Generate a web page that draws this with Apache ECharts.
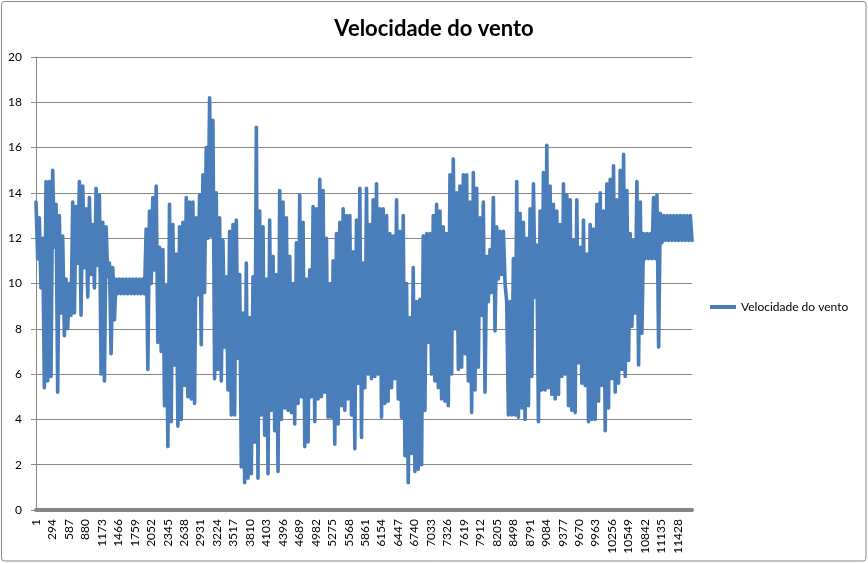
<!DOCTYPE html>
<html><head><meta charset="utf-8">
<script src="https://cdn.jsdelivr.net/npm/echarts@6/dist/echarts.min.js"></script>
<style>html,body{margin:0;padding:0;background:#fff}#c{width:868px;height:563px}</style>
</head><body><div id="c"></div>
<script>
const seriesName = 'Velocidade do vento';
const chartTitle = 'Velocidade do vento';
const totalSamples = 11680;     // number of records (x categories 1..N)
const xLabelStep = 293;         // tick labels 1, 294, 587, ...
const yMin = 0, yMax = 20, yStep = 2;

// Readings, alternating local high / local low, left to right
const speedA = [13.6,11.1, 12.9,9.8, 12.0,5.4, 14.5,5.7, 14.5,5.9, 15.0,11.6, 13.5,5.2, 13.0,8.7, 12.1,7.7, 10.2,8.0,
  10.0,8.6, 13.6,8.7, 13.4,10.9, 14.5,8.6, 14.3,10.7, 13.3,9.4, 13.8,10.4, 12.6,9.8, 14.2,10.8, 13.9,6.0,
  12.7,5.7, 12.5,10.3, 10.9,6.9, 10.7,8.4, 10.2,9.55, 10.2,9.55, 10.2,9.55, 10.2,9.55, 10.2,9.55, 10.2,9.55,
  10.2,9.55, 10.2,9.55, 10.2,9.55, 12.4,6.2, 13.2,10.0];
const speedB = [13.8,10.6, 14.3,7.4, 11.6,7.0, 11.5,4.6, 9.9,2.8, 13.5,3.9, 12.6,6.4, 11.3,3.7, 12.5,4.0, 12.7,5.5,
  13.8,5.0, 13.6,4.9, 13.6,4.7, 12.9,9.5, 13.9,7.3, 14.8,9.6, 16.0,12.0, 18.2,12.1, 17.2,5.8, 14.0,6.2,
  12.9,5.7, 11.9,7.2, 10.3,5.3, 12.3,4.2, 12.6,4.2, 12.8,6.7, 10.4,1.9, 8.7,1.2, 10.9,1.4, 8.5,1.6,
  10.3,3.0, 16.9,1.4, 13.2,4.2, 12.5,3.3, 10.2,1.6, 12.8,4.4, 11.2,3.5, 10.4,1.7, 14.1,4.0, 13.6,4.5, 12.9,4.4];
const speedC = [11.2,4.3, 10.0,3.8, 11.8,4.7, 13.9,5.0, 12.7,2.8, 10.2,3.0, 10.6,5.0, 13.4,3.9, 13.3,4.9, 14.6,5.0,
  14.1,5.2, 12.0,4.1, 10.0,4.1, 11.0,2.9, 12.2,3.8, 12.7,4.6, 13.3,4.4, 13.0,4.9, 13.0,4.2, 11.4,2.7,
  12.8,5.6, 14.2,3.2, 10.9,5.4, 14.2,6.0, 12.6,5.8, 13.7,5.9, 14.4,6.0, 13.3,4.1, 13.3,4.7, 13.0,4.8,
  12.2,5.4, 12.1,5.8, 13.7,4.9, 12.3,4.1, 13.0,2.4, 10.0,1.2, 8.5,2.5, 10.7,1.7, 9.2,1.8, 9.3,2.0, 12.1,4.4, 12.2,7.4];
const speedD = [12.2,6.0, 13.0,5.7, 13.5,5.4, 13.2,4.9, 12.5,4.8, 12.2,4.6, 14.8,6.0, 15.5,8.0, 14.0,6.2, 14.3,6.3,
  14.8,6.9, 14.8,5.7, 13.6,4.3, 14.9,5.3, 14.2,6.3, 12.9,8.6, 13.6,5.2, 11.2,9.2, 11.5,9.6, 13.8,7.9,
  12.5,10.2, 12.3,10.4, 12.3,10.0, 9.2,4.2, 9.2,4.2, 11.1,4.2, 14.5,4.1, 13.1,4.5, 12.7,4.0, 12.0,4.6,
  13.3,5.9, 14.4,9.4, 11.7,3.9, 13.2,5.3, 14.9,5.3, 16.1,5.4, 14.3,5.1, 13.5,4.9, 13.2,5.1, 12.6,5.9, 14.4,6.0, 13.9,4.6];
const speedE = [13.7,4.4, 11.9,4.3, 13.7,6.5, 11.6,5.6, 12.8,5.5, 11.3,3.9, 12.6,4.0, 12.4,4.0, 13.5,4.8, 14.0,5.5,
  13.2,3.5, 14.4,4.5, 14.6,5.8, 15.2,5.2, 13.7,5.6, 15.0,6.2, 15.7,5.9, 14.1,6.6, 12.2,8.1, 11.9,8.7,
  14.5,6.4, 13.6,7.8, 12.2,11.1, 12.2,11.1, 12.2,11.1, 13.8,11.1, 13.9,7.2, 13.1,11.8,
  13.0,11.9, 13.0,11.9, 13.0,11.9, 13.0,11.9, 13.0,11.9, 13.0,11.9, 13.0,11.9, 13.0,11.9, 13.0,11.9];

const readings = [].concat(speedA, speedB, speedC, speedD, speedE);
// place readings evenly over the record range (record index = sample number - 1)
const seriesData = readings.map((v, k) => [Math.round(k * (totalSamples - 1) / (readings.length - 1)), v]);

const FONT = 'Lato, "Liberation Sans", sans-serif';
const chart = echarts.init(document.getElementById('c'), null, {renderer: 'canvas'});
chart.setOption({
  animation: false,
  backgroundColor: '#ffffff',
  title: {
    text: chartTitle, left: 'center', top: 13,
    textStyle: {fontFamily: FONT, fontSize: 22, fontWeight: 'bold', color: '#000'}
  },
  legend: {
    orient: 'vertical', left: 705, top: 296,
    icon: 'rect', itemWidth: 26, itemHeight: 4,
    data: [seriesName],
    textStyle: {fontFamily: FONT, fontSize: 12, color: '#000'}
  },
  grid: {left: 36, right: 176, top: 57, bottom: 53, containLabel: false},
  xAxis: {
    type: 'value', min: 0, max: totalSamples - 1, interval: xLabelStep,
    offset: 2,
    axisLine: {show: true, lineStyle: {color: '#868686', width: 4}},
    axisTick: {show: false},
    splitLine: {show: false},
    axisLabel: {
      rotate: 90, margin: 7, fontFamily: FONT, fontSize: 12, color: '#000',
      showMinLabel: true, showMaxLabel: false,
      formatter: v => String(v + 1)
    }
  },
  yAxis: {
    type: 'value', min: yMin, max: yMax, interval: yStep,
    axisLine: {show: true, lineStyle: {color: '#868686', width: 1}},
    axisTick: {show: true, length: 5, lineStyle: {color: '#868686'}},
    splitLine: {show: true, lineStyle: {color: '#868686', width: 1}},
    axisLabel: {margin: 14, fontFamily: FONT, fontSize: 12, color: '#000'}
  },
  series: [{
    name: seriesName, type: 'line', data: seriesData,
    showSymbol: false, symbol: 'none', silent: true,
    lineStyle: {width: 3.6, color: '#4A7EBB', join: 'round', cap: 'round'},
    itemStyle: {color: '#4A7EBB'},
    emphasis: {disabled: true}
  }],
  graphic: [{
    type: 'rect', silent: true, z: -1,
    shape: {x: 1.5, y: 1.5, width: 864.5, height: 559.5, r: 3},
    style: {fill: 'none', stroke: '#868686', lineWidth: 1}
  }]
});
</script>
</body></html>
